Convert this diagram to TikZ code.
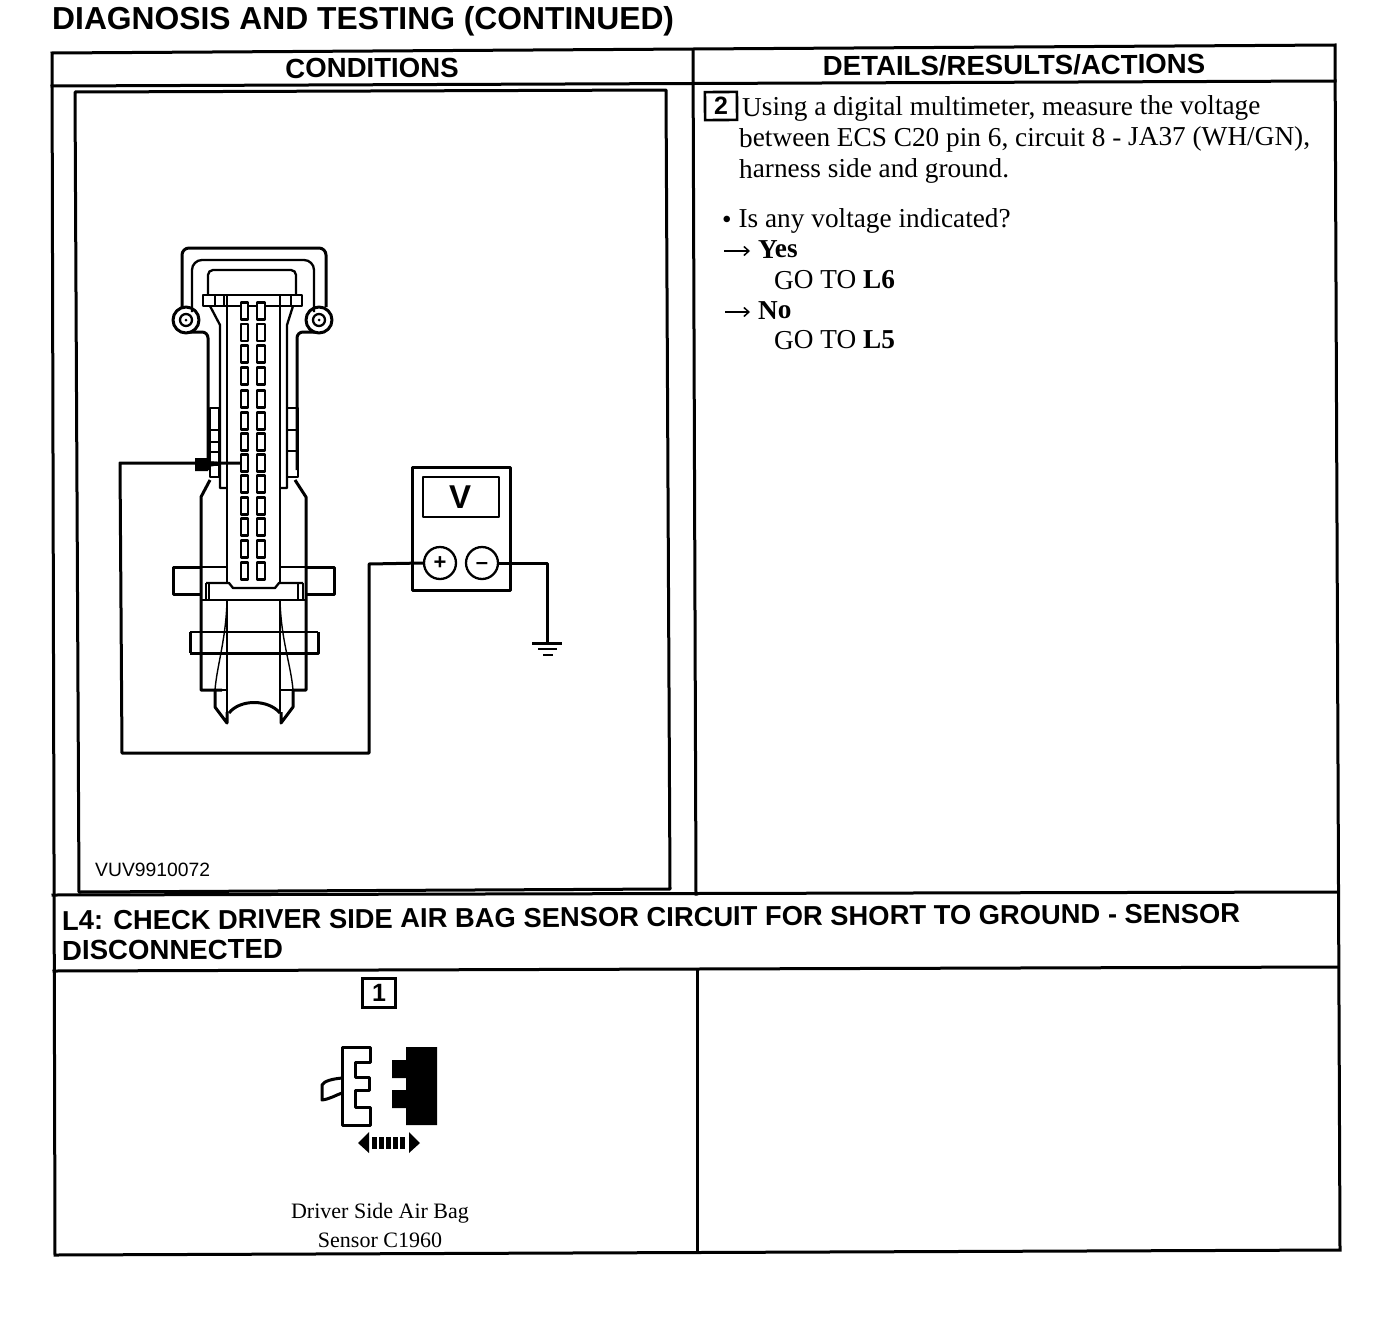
\documentclass[tikz,border=0pt]{standalone}
\usepackage{fontspec}
\usetikzlibrary{arrows.meta}
\setmainfont{Liberation Serif}
\newfontfamily\hv{Liberation Sans}
\tikzset{
 rule/.style={line width=3pt,line cap=rect},
 thick line/.style={line width=3pt,line join=round},
 mid line/.style={line width=2.3pt,line join=round},
 thin line/.style={line width=1.4pt,line join=round},
 head/.style={font=\hv\bfseries\fontsize{27.6}{32}\selectfont,inner sep=0pt,rotate=0.35},
 bodytxt/.style={font=\fontsize{27.3}{30}\selectfont,inner sep=0pt,anchor=base west,rotate=0.15},
 pin/.style={draw,mid line,fill=white,minimum width=7pt,minimum height=17pt,inner sep=0pt},
 numbox/.style={draw,line width=2.6pt,minimum width=32pt,minimum height=28pt,inner sep=0pt,font=\hv\bfseries\fontsize{25}{25}\selectfont},
 textarrow/.style={line width=1.5pt,-{Straight Barb[length=5pt,width=9pt,line width=1.5pt]}},
}
\begin{document}
\begin{tikzpicture}[x=1pt,y=-1pt]
\useasboundingbox (0,0) rectangle (1392,1322);
% table
\draw[rule] (52,53) -- (1335,45) -- (1340,1250) -- (55,1255) -- cycle;
\draw[rule] (52,86) -- (1335,81);
\draw[rule] (693,50) -- (696,894);
\draw[rule] (697,970) -- (697,1252);
\draw[rule] (53,895) -- (1337,892);
\draw[rule] (54,971) -- (1338,967);
% titles
\node[inner sep=0pt,anchor=base west,font=\hv\bfseries\fontsize{31.8}{36}\selectfont] (title) at (52,30) {DIAGNOSIS AND TESTING (CONTINUED)};
\node[head] (cond) at (372,68) {CONDITIONS};
\node[head] (det) at (1014,65) {DETAILS/RESULTS/ACTIONS};
\node[head,anchor=base west,font=\hv\bfseries\fontsize{27.35}{32}\selectfont] (l4a) at (62,930) {L4: CHECK DRIVER SIDE AIR BAG SENSOR CIRCUIT FOR SHORT TO GROUND - SENSOR};
\node[head,anchor=base west] (l4b) at (62,960) {DISCONNECTED};
% text
\node[numbox,rotate=0.35] (two) at (721,106) {2};
\node[bodytxt] (t1) at (742,116) {Using a digital multimeter, measure the voltage};
\node[bodytxt] (t2) at (739,147) {between ECS C20 pin 6, circuit 8 - JA37 (WH/GN),};
\node[bodytxt] (t3) at (739,178) {harness side and ground.};
\node[bodytxt] (t4) at (722,228) {\textbullet\ Is any voltage indicated?};
\node[bodytxt] (t5) at (758,258) {\textbf{Yes}};
\node[bodytxt] (t6) at (774,289) {GO TO \textbf{L6}};
\node[bodytxt] (t7) at (758,319) {\textbf{No}};
\node[bodytxt] (t8) at (774,349) {GO TO \textbf{L5}};
\coordinate (ya) at (724,251);
\coordinate (yb) at (750,251);
\coordinate (na) at (725,312);
\coordinate (nb) at (750,312);
\draw[textarrow] (ya) -- (yb);
\draw[textarrow] (na) -- (nb);
% picture frame
\draw[thick line] (75,92) -- (666,90) -- (670,889) -- (79,892) -- cycle;
\node[font=\hv\fontsize{19.3}{19}\selectfont,anchor=base west,inner sep=0pt] (vuv) at (95,876) {VUV9910072};
% connector: outer shell
\draw[thick line,rounded corners=6pt] (208,470) -- (208,332) -- (190,332);
\draw[thick line,rounded corners=6pt] (297,470) -- (297,332) -- (315,332);
\draw[thick line,rounded corners=7pt] (182,307) -- (182,248) -- (326,248) -- (326,307);
\draw[thick line] (186,320) circle[radius=13];
\draw[thick line] (319,320) circle[radius=13];
\draw[mid line] (186,320) circle[radius=6];
\draw[mid line] (319,320) circle[radius=6];
\fill (186,320) circle[radius=1.5] (319,320) circle[radius=1.5];
\draw[mid line,rounded corners=10pt] (192,312) -- (192,260) -- (314,260) -- (314,312);
\draw[mid line,rounded corners=5pt] (208,296) -- (208,270) -- (296,270) -- (296,296);
% bar
\draw[mid line,fill=white] (203,295) rectangle (302,306);
\draw[mid line] (215,295) -- (215,306) (224,295) -- (224,306) (280,295) -- (280,306) (291,295) -- (291,306);
% wedges
\draw[mid line] (210,306) -- (220,325) -- (220,488) -- (227,488);
\draw[mid line] (293,306) -- (287,325) -- (287,488) -- (280,488);
% side squares
\foreach \a/\b in {408/430,430/442,442/452,452/465,465/477}{\draw[mid line] (210,\a) rectangle (219,\b);}
\foreach \a/\b in {408/430,430/451,451/477}{\draw[mid line] (287,\a) rectangle (298,\b);}
% body
\draw[thick line] (210,480) -- (201,497) -- (201,690) -- (222,690);
\draw[thick line] (295,480) -- (306,497) -- (306,690) -- (293,690);
% flange 1
\draw[thick line] (202,567) -- (173,567) -- (173,594) -- (202,594);
\draw[thick line] (306,567) -- (334,567) -- (334,594) -- (306,594);
\draw[mid line] (202,567) -- (227,567) (280,567) -- (306,567);
\draw[mid line] (202,600) -- (306,600);
\draw[mid line] (206,583) -- (206,600) (209,583) -- (209,600) (298,583) -- (298,600) (303,583) -- (303,600);
% center body
\draw[mid line] (227,295) -- (227,583) (280,295) -- (280,583);
\draw[mid line] (206,583) -- (229,583) -- (233,588) -- (275,588) -- (279,583) -- (303,583);
% pins
\foreach \y in {311,332.5,354,376,399,421,442,463,484,506,527,549,571}{
  \node[pin] (pa\y) at (244.5,\y) {};
  \node[pin,minimum width=8pt] (pb\y) at (261,\y) {};
}
% flange 2
\draw[thick line] (190,653) -- (190,632) (318,632) -- (318,653) -- (190,653);
\draw[mid line] (190,632) -- (318,632);
% inner taper
\draw[thin line] (227,600) .. controls (226,640) and (217,665) .. (215,690);
\draw[thick line] (215,690) -- (215,707) -- (227,723) -- (227,712);
\draw[thin line] (227,600) -- (227,712);
\draw[thin line] (280,600) .. controls (281,640) and (291,665) .. (293,690);
\draw[thick line] (293,690) -- (293,707) -- (281,723) -- (281,712);
\draw[thin line] (280,600) -- (280,712);
\draw[thin line] (215,690) -- (227,690) (281,690) -- (293,690);
\draw[thick line] (229,713) .. controls (240,699) and (268,699) .. (280,713);
% meter
\draw[thick line] (412,467) rectangle (510,590);
\draw[mid line] (423,477) rectangle (499,517);
\node[font=\hv\bfseries\fontsize{33}{33}\selectfont,inner sep=0pt] (vv) at (460,497) {V};
\node[circle,draw,mid line,minimum size=32pt,inner sep=0pt,font=\hv\bfseries\fontsize{22}{22}\selectfont] (plus) at (440,563) {+};
\node[circle,draw,mid line,minimum size=32pt,inner sep=0pt,font=\hv\bfseries\fontsize{22}{22}\selectfont] (minus) at (482,563) {\smash{\raisebox{-6pt}{–}}};
% wires
\coordinate (probe) at (241,463);
\coordinate (gnd) at (547,643);
\draw[thick line] (probe) -- (120,463) -- (122,753) -- (369,753) -- (369,564) -- (plus.west);
\fill (195,458) -- (208,458) -- (208,461) -- (220,462) -- (220,465) -- (208,467) -- (208,471) -- (195,471) -- cycle;
\draw[thick line] (minus.east) -- (547,563) -- (gnd);
\draw[thick line] (532,643) -- (562,643);
\draw[mid line] (538,649) -- (557,649) (543,655) -- (553,655);
% lower cell
\node[numbox,minimum width=33pt,minimum height=29pt] (one) at (379,993) {1};
\draw[thick line] (342,1047) -- (370,1047) -- (370,1062) -- (355,1062) -- (355,1077) -- (369,1077) -- (369,1090) -- (355,1090) -- (355,1107) -- (370,1107) -- (370,1125) -- (342,1125) -- cycle;
\draw[thick line] (342,1078) .. controls (332,1079) and (324,1081) .. (322,1085) -- (322,1100) .. controls (330,1099) and (336,1095) .. (342,1093);
\fill (406,1047) -- (437,1047) -- (437,1125) -- (406,1125) -- (406,1108) -- (392,1108) -- (392,1090) -- (406,1090) -- (406,1078) -- (392,1078) -- (392,1060) -- (406,1060) -- cycle;
\fill (358,1143) -- (369,1132) -- (369,1153) -- cycle;
\fill (420,1143) -- (409,1132) -- (409,1153) -- cycle;
\foreach \x in {372,379,386,393,400}{\fill (\x,1137) rectangle ++(5,12);}
\node[font=\fontsize{22}{22}\selectfont,inner sep=0pt,anchor=base] (c1) at (380,1218) {Driver Side Air Bag};
\node[font=\fontsize{22}{22}\selectfont,inner sep=0pt,anchor=base] (c2) at (380,1247) {Sensor C1960};
\end{tikzpicture}
\end{document}
